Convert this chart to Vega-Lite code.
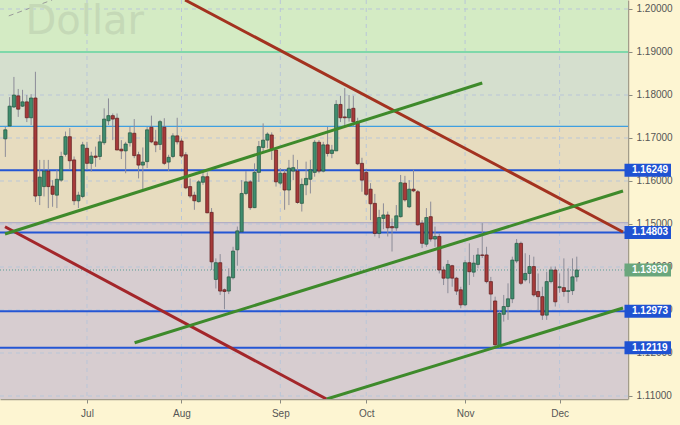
{
  "$schema": "https://vega.github.io/schema/vega-lite/v6.json",
  "width": 628,
  "height": 399,
  "autosize": "none",
  "padding": {"left": 0, "top": 0, "right": 52, "bottom": 26},
  "background": "#fdf5d2",
  "config": {
    "view": {"stroke": null},
    "axis": {
      "grid": false,
      "labelFont": "Liberation Sans",
      "labelFontSize": 10,
      "labelColor": "#555555",
      "domainColor": "#a29c8a",
      "domainWidth": 1.5,
      "tickColor": "#8a8a80",
      "tickSize": 4,
      "labelPadding": 4,
      "labelFlush": false,
      "labelOverlap": false
    }
  },
  "datasets": {
    "bands": [
      {"lo": 1.19, "hi": 1.21, "z": "a"},
      {"lo": 1.17272, "hi": 1.19, "z": "b"},
      {"lo": 1.1503, "hi": 1.17272, "z": "c"},
      {"lo": 1.10, "hi": 1.1503, "z": "d"}
    ],
    "gridY": [{"p": 1.11}, {"p": 1.12}, {"p": 1.13}, {"p": 1.14}, {"p": 1.15}, {"p": 1.16}, {"p": 1.17}, {"p": 1.18}, {"p": 1.19}, {"p": 1.20}],
    "gridX": [{"t": 0}, {"t": 22}, {"t": 45}, {"t": 65}, {"t": 88}, {"t": 110}],
    "levels": [
      {"p": 1.19, "k": "g"},
      {"p": 1.17272, "k": "lb"},
      {"p": 1.1503, "k": "gray"},
      {"p": 1.16249, "k": "b"},
      {"p": 1.14803, "k": "b"},
      {"p": 1.12973, "k": "b"},
      {"p": 1.12119, "k": "b"}
    ],
    "tags": [
      {"p": 1.16249, "k": "b"},
      {"p": 1.14803, "k": "b"},
      {"p": 1.1393, "k": "cur"},
      {"p": 1.12973, "k": "b"},
      {"p": 1.12119, "k": "b"}
    ],
    "trends": [
      {"id": "r1", "t": 22.83, "p": 1.20209},
      {"id": "r1", "t": 124.76, "p": 1.14814},
      {"id": "r2", "t": -19.08, "p": 1.14937},
      {"id": "r2", "t": 55.75, "p": 1.1093},
      {"id": "g1", "t": -19.08, "p": 1.14767},
      {"id": "g1", "t": 92.0, "p": 1.18279},
      {"id": "g2", "t": 11.09, "p": 1.12239},
      {"id": "g2", "t": 124.76, "p": 1.15767},
      {"id": "g3", "t": 55.82, "p": 1.1093},
      {"id": "g3", "t": 124.76, "p": 1.13046}
    ],
    "dashed": [
      {"t": -18.2, "p": 1.1984},
      {"t": -8.1, "p": 1.2021}
    ],
    "candles": [
      {"t": -19, "o": 1.1698, "h": 1.1726, "l": 1.1656, "c": 1.1719},
      {"t": -18, "o": 1.1728, "h": 1.1795, "l": 1.1726, "c": 1.1774},
      {"t": -17, "o": 1.1772, "h": 1.1842, "l": 1.1770, "c": 1.1800},
      {"t": -16, "o": 1.1798, "h": 1.1814, "l": 1.1749, "c": 1.1767},
      {"t": -15, "o": 1.1774, "h": 1.1812, "l": 1.1772, "c": 1.1784},
      {"t": -14, "o": 1.1784, "h": 1.1800, "l": 1.1737, "c": 1.1747},
      {"t": -13, "o": 1.1747, "h": 1.1802, "l": 1.1730, "c": 1.1793},
      {"t": -12, "o": 1.1793, "h": 1.1854, "l": 1.1551, "c": 1.1565},
      {"t": -11, "o": 1.1566, "h": 1.1649, "l": 1.1544, "c": 1.1609},
      {"t": -10, "o": 1.1587, "h": 1.1649, "l": 1.1564, "c": 1.1623},
      {"t": -9, "o": 1.1623, "h": 1.1649, "l": 1.1537, "c": 1.1587},
      {"t": -8, "o": 1.1588, "h": 1.1602, "l": 1.1540, "c": 1.1569},
      {"t": -7, "o": 1.1567, "h": 1.1626, "l": 1.1537, "c": 1.1604},
      {"t": -6, "o": 1.1602, "h": 1.1668, "l": 1.1598, "c": 1.1657},
      {"t": -5, "o": 1.1662, "h": 1.1715, "l": 1.1657, "c": 1.1703},
      {"t": -4, "o": 1.1703, "h": 1.1723, "l": 1.1626, "c": 1.1647},
      {"t": -3, "o": 1.1649, "h": 1.1657, "l": 1.1544, "c": 1.1554},
      {"t": -2, "o": 1.1554, "h": 1.1575, "l": 1.1537, "c": 1.1567},
      {"t": -1, "o": 1.1564, "h": 1.1691, "l": 1.1560, "c": 1.1684},
      {"t": 0, "o": 1.1676, "h": 1.1691, "l": 1.1626, "c": 1.1641},
      {"t": 1, "o": 1.1641, "h": 1.1668, "l": 1.1622, "c": 1.1658},
      {"t": 2, "o": 1.1658, "h": 1.1680, "l": 1.1633, "c": 1.1655},
      {"t": 3, "o": 1.1657, "h": 1.1707, "l": 1.1649, "c": 1.1691},
      {"t": 4, "o": 1.1689, "h": 1.1769, "l": 1.1684, "c": 1.1744},
      {"t": 5, "o": 1.1740, "h": 1.1792, "l": 1.1730, "c": 1.1752},
      {"t": 6, "o": 1.1752, "h": 1.1757, "l": 1.1695, "c": 1.1744},
      {"t": 7, "o": 1.1746, "h": 1.1757, "l": 1.1672, "c": 1.1672},
      {"t": 8, "o": 1.1674, "h": 1.1695, "l": 1.1651, "c": 1.1670},
      {"t": 9, "o": 1.1670, "h": 1.1691, "l": 1.1618, "c": 1.1686},
      {"t": 10, "o": 1.1689, "h": 1.1726, "l": 1.1680, "c": 1.1712},
      {"t": 11, "o": 1.1711, "h": 1.1744, "l": 1.1653, "c": 1.1659},
      {"t": 12, "o": 1.1661, "h": 1.1668, "l": 1.1606, "c": 1.1637},
      {"t": 13, "o": 1.1637, "h": 1.1678, "l": 1.1581, "c": 1.1644},
      {"t": 14, "o": 1.1645, "h": 1.1726, "l": 1.1630, "c": 1.1719},
      {"t": 15, "o": 1.1725, "h": 1.1752, "l": 1.1688, "c": 1.1691},
      {"t": 16, "o": 1.1691, "h": 1.1719, "l": 1.1667, "c": 1.1684},
      {"t": 17, "o": 1.1685, "h": 1.1742, "l": 1.1672, "c": 1.1738},
      {"t": 18, "o": 1.1725, "h": 1.1746, "l": 1.1637, "c": 1.1641},
      {"t": 19, "o": 1.1644, "h": 1.1661, "l": 1.1623, "c": 1.1655},
      {"t": 20, "o": 1.1657, "h": 1.1711, "l": 1.1653, "c": 1.1705},
      {"t": 21, "o": 1.1705, "h": 1.1747, "l": 1.1685, "c": 1.1691},
      {"t": 22, "o": 1.1693, "h": 1.1699, "l": 1.1654, "c": 1.1658},
      {"t": 23, "o": 1.1661, "h": 1.1667, "l": 1.1581, "c": 1.1584},
      {"t": 24, "o": 1.1587, "h": 1.1606, "l": 1.1560, "c": 1.1565},
      {"t": 25, "o": 1.1567, "h": 1.1575, "l": 1.1533, "c": 1.1554},
      {"t": 26, "o": 1.1552, "h": 1.1602, "l": 1.1550, "c": 1.1598},
      {"t": 27, "o": 1.1597, "h": 1.1622, "l": 1.1591, "c": 1.1610},
      {"t": 28, "o": 1.1610, "h": 1.1620, "l": 1.1525, "c": 1.1526},
      {"t": 29, "o": 1.1527, "h": 1.1537, "l": 1.1393, "c": 1.1412},
      {"t": 30, "o": 1.1371, "h": 1.1420, "l": 1.1350, "c": 1.1410},
      {"t": 31, "o": 1.1410, "h": 1.1430, "l": 1.1335, "c": 1.1344},
      {"t": 32, "o": 1.1347, "h": 1.1350, "l": 1.1302, "c": 1.1343},
      {"t": 33, "o": 1.1344, "h": 1.1397, "l": 1.1337, "c": 1.1377},
      {"t": 34, "o": 1.1375, "h": 1.1447, "l": 1.1371, "c": 1.1437},
      {"t": 35, "o": 1.1440, "h": 1.1494, "l": 1.1403, "c": 1.1484},
      {"t": 36, "o": 1.1482, "h": 1.1602, "l": 1.1481, "c": 1.1571},
      {"t": 37, "o": 1.1571, "h": 1.1623, "l": 1.1567, "c": 1.1598},
      {"t": 38, "o": 1.1598, "h": 1.1602, "l": 1.1533, "c": 1.1538},
      {"t": 39, "o": 1.1538, "h": 1.1641, "l": 1.1537, "c": 1.1620},
      {"t": 40, "o": 1.1620, "h": 1.1693, "l": 1.1598, "c": 1.1680},
      {"t": 41, "o": 1.1678, "h": 1.1734, "l": 1.1668, "c": 1.1695},
      {"t": 42, "o": 1.1695, "h": 1.1713, "l": 1.1676, "c": 1.1709},
      {"t": 43, "o": 1.1707, "h": 1.1713, "l": 1.1649, "c": 1.1674},
      {"t": 44, "o": 1.1672, "h": 1.1676, "l": 1.1587, "c": 1.1598},
      {"t": 45, "o": 1.1595, "h": 1.1630, "l": 1.1591, "c": 1.1618},
      {"t": 46, "o": 1.1618, "h": 1.1626, "l": 1.1533, "c": 1.1579},
      {"t": 47, "o": 1.1579, "h": 1.1649, "l": 1.1544, "c": 1.1630},
      {"t": 48, "o": 1.1623, "h": 1.1661, "l": 1.1602, "c": 1.1631},
      {"t": 49, "o": 1.1623, "h": 1.1649, "l": 1.1547, "c": 1.1550},
      {"t": 50, "o": 1.1548, "h": 1.1606, "l": 1.1529, "c": 1.1592},
      {"t": 51, "o": 1.1591, "h": 1.1645, "l": 1.1567, "c": 1.1606},
      {"t": 52, "o": 1.1604, "h": 1.1649, "l": 1.1571, "c": 1.1626},
      {"t": 53, "o": 1.1620, "h": 1.1695, "l": 1.1610, "c": 1.1690},
      {"t": 54, "o": 1.1690, "h": 1.1695, "l": 1.1618, "c": 1.1623},
      {"t": 55, "o": 1.1623, "h": 1.1691, "l": 1.1620, "c": 1.1684},
      {"t": 56, "o": 1.1684, "h": 1.1726, "l": 1.1657, "c": 1.1664},
      {"t": 57, "o": 1.1664, "h": 1.1684, "l": 1.1653, "c": 1.1672},
      {"t": 58, "o": 1.1670, "h": 1.1788, "l": 1.1670, "c": 1.1778},
      {"t": 59, "o": 1.1778, "h": 1.1798, "l": 1.1737, "c": 1.1747},
      {"t": 60, "o": 1.1749, "h": 1.1816, "l": 1.1726, "c": 1.1747},
      {"t": 61, "o": 1.1747, "h": 1.1800, "l": 1.1738, "c": 1.1767},
      {"t": 62, "o": 1.1769, "h": 1.1798, "l": 1.1726, "c": 1.1738},
      {"t": 63, "o": 1.1738, "h": 1.1747, "l": 1.1637, "c": 1.1640},
      {"t": 64, "o": 1.1641, "h": 1.1654, "l": 1.1575, "c": 1.1602},
      {"t": 65, "o": 1.1620, "h": 1.1626, "l": 1.1565, "c": 1.1569},
      {"t": 66, "o": 1.1581, "h": 1.1595, "l": 1.1509, "c": 1.1547},
      {"t": 67, "o": 1.1548, "h": 1.1570, "l": 1.1471, "c": 1.1478},
      {"t": 68, "o": 1.1478, "h": 1.1533, "l": 1.1467, "c": 1.1515},
      {"t": 69, "o": 1.1513, "h": 1.1548, "l": 1.1488, "c": 1.1521},
      {"t": 70, "o": 1.1521, "h": 1.1529, "l": 1.1471, "c": 1.1491},
      {"t": 71, "o": 1.1494, "h": 1.1513, "l": 1.1436, "c": 1.1491},
      {"t": 72, "o": 1.1491, "h": 1.1544, "l": 1.1484, "c": 1.1519},
      {"t": 73, "o": 1.1517, "h": 1.1614, "l": 1.1515, "c": 1.1596},
      {"t": 74, "o": 1.1595, "h": 1.1612, "l": 1.1552, "c": 1.1556},
      {"t": 75, "o": 1.1540, "h": 1.1602, "l": 1.1537, "c": 1.1581},
      {"t": 76, "o": 1.1581, "h": 1.1626, "l": 1.1574, "c": 1.1577},
      {"t": 77, "o": 1.1575, "h": 1.1579, "l": 1.1496, "c": 1.1498},
      {"t": 78, "o": 1.1502, "h": 1.1509, "l": 1.1444, "c": 1.1455},
      {"t": 79, "o": 1.1453, "h": 1.1537, "l": 1.1447, "c": 1.1515},
      {"t": 80, "o": 1.1517, "h": 1.1552, "l": 1.1459, "c": 1.1465},
      {"t": 81, "o": 1.1465, "h": 1.1494, "l": 1.1447, "c": 1.1471},
      {"t": 82, "o": 1.1471, "h": 1.1478, "l": 1.1385, "c": 1.1393},
      {"t": 83, "o": 1.1393, "h": 1.1401, "l": 1.1358, "c": 1.1374},
      {"t": 84, "o": 1.1374, "h": 1.1416, "l": 1.1339, "c": 1.1406},
      {"t": 85, "o": 1.1403, "h": 1.1405, "l": 1.1354, "c": 1.1374},
      {"t": 86, "o": 1.1374, "h": 1.1377, "l": 1.1335, "c": 1.1344},
      {"t": 87, "o": 1.1347, "h": 1.1354, "l": 1.1304, "c": 1.1312},
      {"t": 88, "o": 1.1312, "h": 1.1416, "l": 1.1309, "c": 1.1410},
      {"t": 89, "o": 1.1410, "h": 1.1455, "l": 1.1358, "c": 1.1389},
      {"t": 90, "o": 1.1388, "h": 1.1428, "l": 1.1377, "c": 1.1409},
      {"t": 91, "o": 1.1406, "h": 1.1444, "l": 1.1397, "c": 1.1428},
      {"t": 92, "o": 1.1428, "h": 1.1502, "l": 1.1421, "c": 1.1427},
      {"t": 93, "o": 1.1428, "h": 1.1447, "l": 1.1362, "c": 1.1366},
      {"t": 94, "o": 1.1366, "h": 1.1377, "l": 1.1299, "c": 1.1337},
      {"t": 95, "o": 1.1321, "h": 1.1331, "l": 1.1212, "c": 1.1219},
      {"t": 96, "o": 1.1217, "h": 1.1299, "l": 1.1212, "c": 1.1292},
      {"t": 97, "o": 1.1290, "h": 1.1335, "l": 1.1273, "c": 1.1308},
      {"t": 98, "o": 1.1308, "h": 1.1362, "l": 1.1277, "c": 1.1326},
      {"t": 99, "o": 1.1326, "h": 1.1424, "l": 1.1316, "c": 1.1416},
      {"t": 100, "o": 1.1414, "h": 1.1465, "l": 1.1409, "c": 1.1455},
      {"t": 101, "o": 1.1455, "h": 1.1459, "l": 1.1358, "c": 1.1362},
      {"t": 102, "o": 1.1370, "h": 1.1432, "l": 1.1366, "c": 1.1385},
      {"t": 103, "o": 1.1385, "h": 1.1428, "l": 1.1362, "c": 1.1401},
      {"t": 104, "o": 1.1401, "h": 1.1424, "l": 1.1331, "c": 1.1335},
      {"t": 105, "o": 1.1343, "h": 1.1385, "l": 1.1299, "c": 1.1331},
      {"t": 106, "o": 1.1331, "h": 1.1354, "l": 1.1277, "c": 1.1288},
      {"t": 107, "o": 1.1288, "h": 1.1389, "l": 1.1277, "c": 1.1366},
      {"t": 108, "o": 1.1366, "h": 1.1401, "l": 1.1362, "c": 1.1393},
      {"t": 109, "o": 1.1393, "h": 1.1401, "l": 1.1308, "c": 1.1319},
      {"t": 110, "o": 1.1352, "h": 1.1385, "l": 1.1340, "c": 1.1354},
      {"t": 111, "o": 1.1352, "h": 1.1420, "l": 1.1331, "c": 1.1343},
      {"t": 112, "o": 1.1343, "h": 1.1397, "l": 1.1316, "c": 1.1345},
      {"t": 113, "o": 1.1345, "h": 1.1420, "l": 1.1335, "c": 1.1377},
      {"t": 114, "o": 1.1377, "h": 1.1424, "l": 1.1366, "c": 1.1393}
    ]
  },
  "layer": [
    {
      "data": {"name": "bands"},
      "mark": {"type": "rect", "clip": true},
      "encoding": {
        "y": {"field": "lo", "type": "quantitative", "scale": {"domain": [1.1093, 1.20209], "nice": false, "zero": false}, "axis": {"title": null, "orient": "right", "values": [1.11, 1.12, 1.13, 1.14, 1.15, 1.16, 1.17, 1.18, 1.19, 1.2], "format": ".5f"}},
        "y2": {"field": "hi"},
        "fill": {"field": "z", "type": "nominal", "legend": null, "scale": {"domain": ["a", "b", "c", "d"], "range": ["#d4ebc4", "#d5dfce", "#e7dcbf", "#d7cdd0"]}}
      }
    },
    {
      "data": {"name": "gridY"},
      "mark": {"type": "rule", "color": "#b9c6d8", "strokeDash": [4, 4], "strokeWidth": 1},
      "encoding": {
        "y": {"field": "p", "type": "quantitative", "axis": {"title": null, "orient": "right", "values": [1.11, 1.12, 1.13, 1.14, 1.15, 1.16, 1.17, 1.18, 1.19, 1.2], "format": ".5f"}}
      }
    },
    {
      "data": {"name": "gridX"},
      "mark": {"type": "rule", "color": "#b9c6d8", "strokeDash": [4, 4], "strokeWidth": 1},
      "encoding": {
        "x": {"field": "t", "type": "quantitative", "scale": {"domain": [-19.08, 124.76], "nice": false, "zero": false}, "axis": {"title": null, "orient": "bottom", "values": [-21, 0, 22, 45, 65, 88, 110], "labelExpr": "datum.value == -21 ? 'Jun' : datum.value == 0 ? 'Jul' : datum.value == 22 ? 'Aug' : datum.value == 45 ? 'Sep' : datum.value == 65 ? 'Oct' : datum.value == 88 ? 'Nov' : 'Dec'", "labelPadding": 5}}
      }
    },
    {
      "data": {"name": "dashed"},
      "mark": {"type": "line", "clip": true, "color": "#9a9a9a", "strokeDash": [5, 4], "strokeWidth": 1},
      "encoding": {
        "x": {"field": "t", "type": "quantitative"},
        "y": {"field": "p", "type": "quantitative"}
      }
    },
    {
      "data": {"values": [{}]},
      "mark": {"type": "text", "align": "left", "baseline": "alphabetic", "font": "DejaVu Sans", "fontSize": 40, "color": "#c5d9b7"},
      "encoding": {
        "x": {"datum": -14.3, "type": "quantitative"},
        "y": {"datum": 1.1941, "type": "quantitative"},
        "text": {"value": "Dollar"}
      }
    },
    {
      "data": {"name": "levels"},
      "mark": {"type": "rule"},
      "encoding": {
        "y": {"field": "p", "type": "quantitative"},
        "color": {"field": "k", "type": "nominal", "legend": null, "scale": {"domain": ["g", "lb", "gray", "b"], "range": ["#7fd8aa", "#3f9fe0", "#b3aec4", "#2456d4"]}},
        "strokeWidth": {"condition": {"test": "datum.k == 'lb' || datum.k == 'gray'", "value": 1.3}, "value": 2}
      }
    },
    {
      "data": {"name": "tags"},
      "transform": [{"filter": "datum.k == 'cur'"}],
      "mark": {"type": "rule", "color": "#5a9c94", "strokeDash": [1, 2], "strokeWidth": 1},
      "encoding": {
        "y": {"field": "p", "type": "quantitative"}
      }
    },
    {
      "data": {"name": "candles"},
      "mark": {"type": "rule", "clip": true, "color": "#8c8c98", "strokeWidth": 1},
      "encoding": {
        "x": {"field": "t", "type": "quantitative"},
        "y": {"field": "l", "type": "quantitative"},
        "y2": {"field": "h"}
      }
    },
    {
      "data": {"name": "candles"},
      "mark": {"type": "bar", "clip": true, "size": 3.2, "strokeWidth": 0.7},
      "encoding": {
        "x": {"field": "t", "type": "quantitative"},
        "y": {"field": "o", "type": "quantitative"},
        "y2": {"field": "c"},
        "fill": {"condition": {"test": "datum.c >= datum.o", "value": "#3f8d6e"}, "value": "#a63a3a"},
        "stroke": {"condition": {"test": "datum.c >= datum.o", "value": "#23543f"}, "value": "#5e1c1c"}
      }
    },
    {
      "data": {"name": "trends"},
      "mark": {"type": "line", "clip": true, "strokeWidth": 3},
      "encoding": {
        "x": {"field": "t", "type": "quantitative"},
        "y": {"field": "p", "type": "quantitative"},
        "detail": {"field": "id", "type": "nominal"},
        "stroke": {"field": "id", "type": "nominal", "legend": null, "scale": {"domain": ["r1", "r2", "g1", "g2", "g3"], "range": ["#a3321f", "#a3262a", "#3e8a2b", "#3e8a2b", "#3e8a2b"]}}
      }
    },
    {
      "data": {"name": "tags"},
      "mark": {"type": "rect", "xOffset": 1.5, "x2Offset": 48, "yOffset": -6.5, "y2Offset": 6.5},
      "encoding": {
        "x": {"datum": 124.76, "type": "quantitative"},
        "x2": {"datum": 124.76},
        "y": {"field": "p", "type": "quantitative"},
        "y2": {"field": "p"},
        "fill": {"condition": {"test": "datum.k == 'cur'", "value": "#6aa67c"}, "value": "#1f52d2"}
      }
    },
    {
      "data": {"name": "tags"},
      "mark": {"type": "text", "align": "left", "baseline": "middle", "dx": 9, "font": "Liberation Sans", "fontSize": 10, "fontWeight": "bold", "color": "#ffffff"},
      "encoding": {
        "x": {"datum": 124.76, "type": "quantitative"},
        "y": {"field": "p", "type": "quantitative"},
        "text": {"field": "p", "type": "quantitative", "format": ".5f"}
      }
    }
  ]
}
